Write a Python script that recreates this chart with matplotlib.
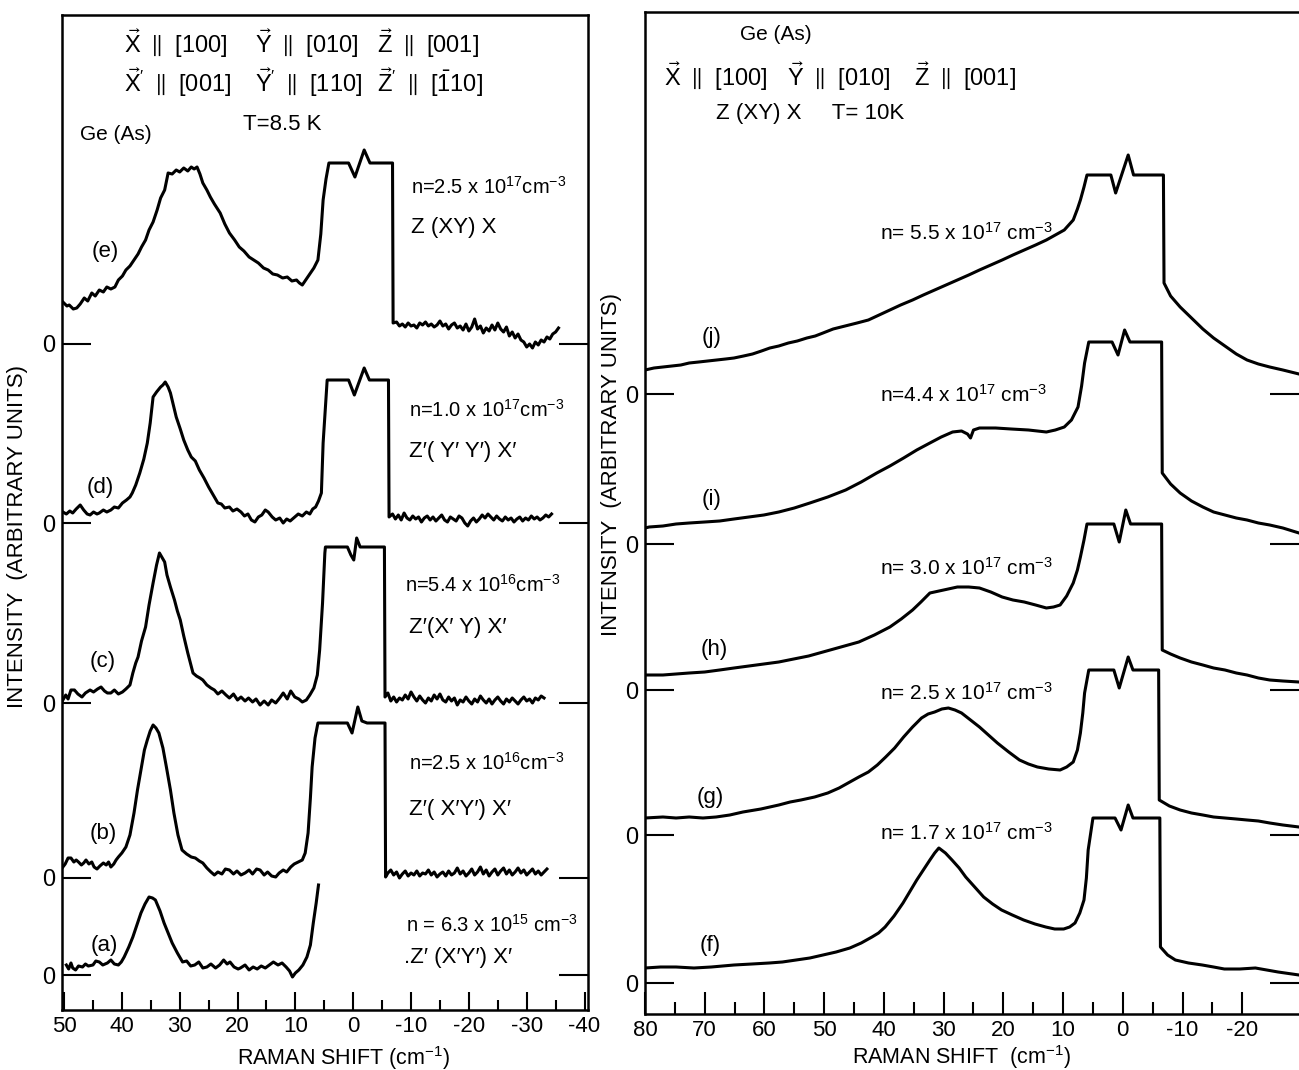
import matplotlib
matplotlib.use('Agg')
import matplotlib.pyplot as plt

plt.rcParams['font.family'] = ['Liberation Sans', 'DejaVu Sans']
plt.rcParams['mathtext.default'] = 'regular'
plt.rcParams['font.size'] = 15

# ---- left panel: Ge(As), T = 8.5 K, traces (e)..(a); (shift, intensity above own zero)
trace_e = [(50.2, 42), (49.5, 38), (49.1, 39), (48.4, 35), (47.8, 36), (47.2, 40), (46.5, 46), (45.9, 43),
           (45.2, 51), (44.6, 48), (43.9, 54), (43.2, 52), (42.6, 57), (41.9, 55), (41.2, 57), (40.6, 64),
           (39.9, 68), (39.3, 74), (38.6, 78), (37.9, 84), (37.2, 90), (36.6, 97), (35.9, 104), (35.3, 114),
           (34.6, 122), (33.9, 134), (33.3, 146), (32.6, 154), (32.0, 171), (31.3, 170), (30.6, 174),
           (30.0, 172), (29.3, 176), (28.6, 173), (28.0, 177), (27.5, 175), (27.0, 177), (26.5, 170),
           (26.0, 161), (25.3, 154), (24.7, 147), (24.0, 140), (23.0, 131), (22.2, 120), (21.4, 111),
           (20.5, 104), (19.7, 97), (18.9, 93), (18.0, 87), (17.2, 84), (16.4, 81), (15.5, 76), (14.7, 74),
           (13.9, 70), (13.1, 69), (12.2, 66), (11.4, 67), (10.6, 63), (9.8, 64), (9.3, 61), (8.8, 59),
           (8.1, 65), (7.4, 71), (6.8, 76), (6.1, 84), (5.6, 110), (5.2, 144), (4.7, 165), (4.2, 181),
           (0.8, 181), (-0.3, 167), (-1.9, 194), (-2.9, 181), (-6.8, 181), (-6.9, 21),
           (-7.5, 22), (-8.0, 18), (-8.5, 20), (-9.0, 17), (-9.5, 21), (-10.0, 18), (-10.5, 19), (-11.0, 16),
           (-11.5, 21), (-12.0, 19), (-12.5, 22), (-13.0, 18), (-13.5, 20), (-14.0, 17), (-14.5, 19),
           (-15.0, 23), (-15.5, 18), (-16.0, 20), (-16.5, 15), (-17.0, 19), (-17.5, 21), (-18.0, 16),
           (-18.5, 18), (-19.0, 14), (-19.5, 20), (-20.0, 13), (-20.5, 17), (-21.0, 25), (-21.5, 15),
           (-22.0, 18), (-22.5, 11), (-23.0, 16), (-23.5, 13), (-24.0, 19), (-24.5, 14), (-25.0, 21),
           (-25.5, 15), (-26.0, 12), (-26.5, 17), (-27.0, 8), (-27.5, 12), (-28.0, 6), (-28.5, 10),
           (-29.0, 4), (-29.5, 2), (-30.0, -3), (-30.5, 0), (-31.0, -4), (-31.5, 2), (-32.0, -1),
           (-32.5, 4), (-33.0, 2), (-33.5, 7), (-34.0, 5), (-34.5, 10), (-35.0, 12), (-35.5, 16)]

trace_d = [(50.2, 11), (49.6, 9), (49.0, 12), (48.5, 10), (47.9, 14), (47.2, 18), (46.6, 13), (46.0, 9),
           (45.5, 8), (44.9, 11), (44.3, 9), (43.9, 10), (43.2, 13), (42.6, 11), (41.9, 13), (41.3, 16),
           (40.6, 15), (39.9, 20), (39.2, 23), (38.6, 26), (38.2, 30), (37.6, 38), (36.9, 50), (36.2, 64),
           (35.6, 80), (35.1, 100), (34.6, 126), (34.0, 131), (33.3, 136), (32.9, 138), (32.5, 141),
           (32.0, 136), (31.6, 130), (31.1, 118), (30.6, 106), (29.9, 94), (29.3, 83), (28.6, 73),
           (28.0, 66), (27.3, 62), (26.6, 53), (25.8, 45), (25.0, 36), (24.2, 28), (23.4, 20), (22.8, 19),
           (22.2, 15), (21.4, 16), (20.8, 12), (20.1, 14), (19.4, 11), (18.8, 7), (18.2, 9), (17.6, 3),
           (17.0, 1), (16.4, 6), (15.8, 8), (15.2, 13), (14.7, 11), (14.0, 6), (13.4, 3), (12.7, 5),
           (12.1, 0), (11.5, 4), (10.9, 2), (10.1, 6), (9.5, 9), (8.8, 7), (8.1, 11), (7.5, 9), (7.0, 14),
           (6.5, 16), (6.0, 22), (5.5, 30), (5.2, 80), (4.5, 143),
           (0.8, 143), (-0.2, 128), (-1.9, 155), (-2.8, 143), (-6.1, 143), (-6.2, 6),
           (-6.8, 9), (-7.3, 4), (-7.8, 8), (-8.3, 3), (-8.8, 10), (-9.3, 5), (-9.8, 3), (-10.3, 7),
           (-10.8, 4), (-11.3, 6), (-11.8, 1), (-12.3, 5), (-12.8, 7), (-13.3, 3), (-13.8, 6), (-14.3, 2),
           (-14.8, 5), (-15.3, 8), (-15.8, 3), (-16.3, 1), (-16.8, 6), (-17.3, 4), (-17.8, 2), (-18.3, 7),
           (-18.8, 5), (-19.3, 0), (-19.8, -3), (-20.3, 2), (-20.8, 5), (-21.3, 1), (-21.8, 4), (-22.3, 8),
           (-22.8, 5), (-23.3, 9), (-23.8, 6), (-24.3, 3), (-24.8, 7), (-25.3, 4), (-25.8, 2), (-26.3, 6),
           (-26.8, 3), (-27.3, 5), (-27.8, 1), (-28.3, 4), (-28.8, 6), (-29.3, 2), (-29.8, 5), (-30.3, 3),
           (-30.8, 7), (-31.3, 4), (-31.8, 6), (-32.3, 3), (-32.8, 5), (-33.3, 8), (-33.8, 6), (-34.3, 9)]

trace_c = [(50.2, 3), (49.7, 8), (49.3, 4), (48.8, 13), (48.2, 13), (47.6, 9), (46.9, 6), (46.3, 10),
           (45.5, 13), (44.9, 11), (44.2, 14), (43.6, 16), (43.0, 12), (42.5, 10), (41.9, 10), (41.3, 13),
           (40.6, 9), (39.9, 11), (39.3, 14), (38.6, 18), (38.1, 30), (37.6, 40), (37.2, 46), (36.6, 62),
           (35.9, 76), (35.3, 98), (34.6, 120), (34.0, 138), (33.5, 150), (33.1, 146), (32.6, 141),
           (32.2, 128), (31.6, 116), (30.9, 103), (30.4, 92), (29.9, 83), (29.3, 67), (28.6, 50),
           (28.1, 39), (27.7, 30), (27.1, 27), (26.5, 25), (26.0, 23), (25.3, 18), (24.6, 15), (24.0, 13),
           (23.4, 9), (22.7, 12), (22.0, 8), (21.4, 5), (20.7, 9), (20.0, 3), (19.4, 6), (18.7, 2),
           (18.1, 5), (17.4, 1), (16.8, 4), (16.1, -2), (15.4, 2), (14.7, -2), (14.1, 3), (13.4, 0),
           (12.7, 5), (12.1, 10), (11.4, 4), (10.8, 12), (10.1, 6), (9.4, 4), (8.8, 1), (8.1, 3), (7.5, 8),
           (6.8, 15), (6.2, 28), (5.8, 53), (5.3, 100), (4.9, 150), (4.8, 156),
           (1.0, 156), (0.4, 148), (-0.1, 143), (-0.6, 165), (-1.2, 156), (-5.4, 156), (-5.5, 6),
           (-6.0, 10), (-6.5, 2), (-7.0, 6), (-7.5, 1), (-8.0, 5), (-8.5, 3), (-9.0, 8), (-9.5, 4),
           (-10.0, 11), (-10.5, 6), (-11.0, 2), (-11.5, 7), (-12.0, 3), (-12.5, 0), (-13.0, 5), (-13.5, 2),
           (-14.0, 8), (-14.5, 4), (-15.0, 9), (-15.5, 3), (-16.0, 1), (-16.5, 6), (-17.0, 2), (-17.5, 5),
           (-18.0, -2), (-18.5, 3), (-19.0, 1), (-19.5, 6), (-20.0, 2), (-20.5, -1), (-21.0, 4), (-21.5, 1),
           (-22.0, 7), (-22.5, 3), (-23.0, 0), (-23.5, 4), (-24.0, -1), (-24.5, 3), (-25.0, 6), (-25.5, 2),
           (-26.0, -1), (-26.5, 4), (-27.0, 1), (-27.5, 5), (-28.0, 2), (-28.5, -1), (-29.0, 3), (-29.5, 6),
           (-30.0, 2), (-30.5, 4), (-31.0, 0), (-31.5, 5), (-32.0, 3), (-32.5, 7), (-33.0, 5)]

trace_b = [(50.2, 11), (49.8, 14), (49.3, 20), (48.8, 20), (48.3, 16), (47.9, 18), (47.5, 16), (47.0, 13),
           (46.6, 15), (46.2, 18), (45.7, 14), (45.2, 16), (44.8, 11), (44.3, 9), (43.8, 12), (43.2, 15),
           (42.7, 13), (42.3, 16), (41.9, 11), (41.4, 14), (41.0, 18), (40.6, 21), (40.0, 25), (39.3, 31),
           (38.6, 43), (37.9, 65), (37.3, 88), (36.6, 111), (36.1, 128), (35.6, 138), (35.1, 147),
           (34.6, 153), (34.1, 150), (33.6, 145), (32.9, 130), (32.3, 111), (31.6, 88), (31.0, 65),
           (30.3, 43), (29.6, 28), (28.8, 24), (28.0, 21), (27.3, 20), (26.6, 17), (26.0, 15), (25.3, 10),
           (24.6, 6), (24.0, 3), (23.4, 6), (22.7, 4), (22.1, 9), (21.4, 8), (20.7, 4), (20.1, 7),
           (19.4, 3), (18.7, 5), (18.0, 8), (17.4, 4), (16.7, 9), (16.1, 8), (15.4, 3), (14.8, 6),
           (14.1, 2), (13.4, 1), (12.8, 5), (12.1, 8), (11.5, 6), (10.8, 11), (10.2, 14), (9.5, 16),
           (8.8, 18), (8.3, 25), (7.8, 45), (7.4, 80), (7.1, 111), (6.6, 140), (6.1, 155),
           (1.0, 155), (0.2, 145), (-0.8, 171), (-1.5, 157), (-2.4, 155), (-5.5, 155), (-5.6, 1),
           (-6.0, 5), (-6.5, 8), (-7.0, 3), (-7.5, 6), (-8.0, 0), (-8.5, 4), (-9.0, 7), (-9.5, 2),
           (-10.0, 5), (-10.5, 3), (-11.0, 7), (-11.5, 2), (-12.0, 5), (-12.5, 4), (-13.0, 8), (-13.5, 3),
           (-14.0, 6), (-14.5, 1), (-15.0, 4), (-15.5, 6), (-16.0, 2), (-16.5, 7), (-17.0, 3), (-17.5, 5),
           (-18.0, 10), (-18.5, 4), (-19.0, 7), (-19.5, 2), (-20.0, 5), (-20.5, 9), (-21.0, 3), (-21.5, 6),
           (-22.0, 11), (-22.5, 4), (-23.0, 8), (-23.5, 2), (-24.0, 6), (-24.5, 9), (-25.0, 3), (-25.5, 7),
           (-26.0, 10), (-26.5, 4), (-27.0, 8), (-27.5, 3), (-28.0, 6), (-28.5, 10), (-29.0, 5), (-29.5, 8),
           (-30.0, 3), (-30.5, 6), (-31.0, 9), (-31.5, 4), (-32.0, 7), (-32.5, 3), (-33.0, 6), (-33.5, 9)]

trace_a = [(49.6, 10), (49.2, 6), (48.8, 12), (48.5, 7), (48.0, 5), (47.5, 9), (46.8, 8), (46.3, 11),
           (45.8, 9), (45.0, 10), (44.5, 14), (43.9, 13), (43.3, 10), (42.5, 12), (41.9, 15), (41.3, 11),
           (40.6, 10), (40.1, 13), (39.6, 18), (38.8, 28), (38.1, 38), (37.4, 50), (36.7, 62), (36.0, 71),
           (35.3, 78), (34.7, 77), (34.2, 75), (33.4, 64), (32.7, 52), (32.0, 42), (31.3, 32), (30.4, 22),
           (29.5, 13), (28.8, 14), (28.1, 9), (27.4, 10), (26.7, 13), (26.0, 7), (25.3, 8), (24.6, 11),
           (23.8, 7), (23.1, 10), (22.4, 15), (21.8, 11), (21.3, 13), (20.6, 8), (19.9, 6), (19.5, 7),
           (18.7, 10), (18.0, 5), (17.3, 8), (16.6, 6), (15.9, 9), (15.2, 7), (14.5, 10), (13.8, 13),
           (13.0, 10), (12.3, 12), (11.6, 8), (11.0, 4), (10.5, -2), (10.0, 2), (9.4, 5), (8.7, 10),
           (8.0, 18), (7.4, 30), (6.9, 52), (6.4, 72), (6.0, 90)]

left_traces = [trace_e, trace_d, trace_c, trace_b, trace_a]
left_zero = [666, 487, 307, 132, 35]
left_tags = ['(e)', '(d)', '(c)', '(b)', '(a)']
left_density = [r'n=2.5 x 10$^{17}$cm$^{-3}$', r'n=1.0 x 10$^{17}$cm$^{-3}$',
                r'n=5.4 x 10$^{16}$cm$^{-3}$', r'n=2.5 x 10$^{16}$cm$^{-3}$',
                r'n = 6.3 x 10$^{15}$ cm$^{-3}$']
left_geometry = ['Z (XY) X', 'Z′( Y′ Y′) X′', 'Z′(X′ Y) X′', 'Z′( X′Y′) X′', '.Z′ (X′Y′) X′']

# ---- right panel: Ge(As), Z(XY)X, T = 10 K, traces (j)..(f)
trace_j = [(80.0, 24), (78.5, 26), (77.0, 27), (75.5, 28), (74.0, 29), (72.6, 31), (71.0, 32), (69.5, 33),
           (68.0, 34), (66.5, 35), (65.1, 36), (63.5, 38), (62.0, 40), (60.5, 43), (59.1, 46), (57.6, 48),
           (56.0, 51), (54.5, 53), (52.9, 56), (51.5, 58), (50.2, 61), (48.5, 65), (46.5, 68), (44.5, 71),
           (42.6, 74), (40.8, 79), (39.0, 84), (37.2, 89), (35.2, 94), (33.4, 99), (31.5, 104), (29.6, 109),
           (27.7, 114), (25.8, 119), (24.0, 124), (22.1, 129), (20.2, 134), (18.4, 139), (16.5, 144),
           (14.6, 149), (12.8, 154), (11.3, 159), (9.8, 164), (8.3, 174), (7.6, 185), (7.1, 194),
           (6.5, 207), (6.0, 219),
           (2.0, 219), (1.2, 201), (-0.9, 239), (-1.8, 219), (-6.8, 219), (-6.9, 111),
           (-8.0, 98), (-9.6, 87), (-11.5, 76), (-13.4, 65), (-15.2, 56), (-17.1, 48), (-19.0, 40),
           (-20.8, 34), (-22.7, 30), (-24.6, 27), (-26.8, 24), (-29.5, 20)]

trace_i = [(80.0, 16), (79.3, 17), (77.0, 18), (74.8, 20), (72.6, 21), (70.0, 22), (67.5, 23), (65.1, 25),
           (62.6, 27), (60.1, 29), (57.6, 32), (55.0, 36), (52.4, 41), (49.4, 47), (46.4, 54), (43.8, 62),
           (41.2, 71), (39.0, 78), (36.7, 86), (34.5, 94), (32.3, 101), (30.4, 107), (28.5, 112),
           (27.0, 113), (26.0, 110), (25.5, 106), (25.0, 114), (24.0, 116), (21.3, 116), (18.7, 115),
           (15.8, 114), (12.8, 112), (11.3, 114), (9.8, 117), (8.6, 124), (7.5, 137), (6.9, 158),
           (6.4, 181), (5.7, 202),
           (1.8, 202), (0.8, 189), (-0.3, 214), (-1.2, 202), (-6.5, 202), (-6.6, 71),
           (-8.0, 60), (-9.6, 51), (-11.5, 43), (-13.4, 37), (-15.2, 32), (-17.1, 29), (-19.0, 26),
           (-20.8, 24), (-22.7, 21), (-24.6, 19), (-26.8, 16), (-29.5, 11)]

trace_h = [(80.0, 15), (77.0, 15), (74.8, 16), (72.6, 17), (70.0, 18), (67.5, 20), (65.1, 22), (62.6, 24),
           (60.1, 26), (57.6, 28), (55.1, 31), (52.6, 34), (50.2, 38), (47.2, 43), (44.2, 48), (41.6, 55),
           (39.0, 63), (37.1, 71), (35.2, 80), (33.8, 88), (32.3, 97), (30.0, 100), (27.7, 103),
           (25.8, 103), (24.0, 102), (22.1, 98), (20.2, 93), (18.4, 90), (16.5, 88), (14.6, 85),
           (12.8, 82), (11.6, 83), (10.5, 85), (9.4, 94), (8.3, 107), (7.6, 120), (7.1, 133), (6.5, 150),
           (6.0, 166),
           (1.5, 166), (0.6, 148), (-0.5, 180), (-1.3, 166), (-6.5, 166), (-6.6, 40),
           (-8.0, 36), (-9.6, 32), (-11.5, 28), (-13.4, 25), (-15.2, 22), (-17.1, 20), (-19.0, 17),
           (-20.8, 15), (-22.7, 12), (-24.6, 10), (-26.8, 9), (-29.5, 8)]

trace_g = [(80.0, 17), (77.0, 18), (74.8, 17), (72.6, 18), (70.3, 17), (68.1, 18), (65.8, 20), (63.6, 23),
           (60.6, 26), (57.6, 30), (55.7, 33), (53.9, 35), (51.6, 38), (49.4, 42), (47.5, 47), (45.7, 53),
           (44.2, 58), (42.6, 63), (41.1, 70), (39.7, 78), (38.2, 87), (36.7, 98), (35.2, 108),
           (33.7, 117), (32.6, 121), (31.5, 123), (30.3, 126), (29.2, 127), (28.1, 125), (27.0, 122),
           (25.5, 115), (24.0, 108), (22.5, 100), (21.0, 92), (19.1, 83), (17.3, 75), (15.8, 71),
           (14.3, 68), (12.4, 66), (10.5, 65), (9.4, 68), (8.3, 73), (7.6, 85), (7.1, 102), (6.7, 122),
           (6.4, 142), (5.7, 165),
           (1.5, 165), (0.6, 147), (-0.9, 178), (-1.7, 165), (-6.0, 165), (-6.1, 35),
           (-7.8, 29), (-9.6, 25), (-11.5, 22), (-13.4, 20), (-15.2, 18), (-17.1, 17), (-19.0, 16),
           (-20.8, 15), (-22.7, 14), (-24.6, 12), (-26.8, 10), (-29.5, 8)]

trace_f = [(80.0, 15), (77.4, 16), (74.8, 16), (71.8, 15), (68.9, 16), (67.0, 17), (65.1, 18), (62.1, 19),
           (59.2, 20), (57.0, 21), (54.7, 23), (52.4, 25), (50.2, 28), (48.0, 31), (45.7, 35), (43.8, 40),
           (42.0, 46), (40.9, 50), (39.8, 56), (38.3, 67), (36.8, 80), (35.6, 92), (34.5, 103),
           (33.4, 113), (32.3, 123), (31.5, 130), (30.8, 135), (29.7, 130), (28.6, 123), (27.4, 115),
           (26.3, 106), (24.8, 96), (23.3, 86), (21.8, 79), (20.3, 73), (18.5, 68), (16.6, 63),
           (14.7, 59), (12.9, 56), (11.4, 54), (9.9, 54), (8.9, 56), (8.0, 60), (7.2, 70), (6.5, 83),
           (6.1, 105), (5.8, 133), (5.0, 165),
           (1.3, 165), (0.3, 153), (-0.9, 178), (-1.7, 165), (-6.2, 165), (-6.3, 36),
           (-7.5, 28), (-8.8, 23), (-11.0, 20), (-13.3, 18), (-15.2, 16), (-17.0, 14), (-19.6, 14),
           (-22.2, 15), (-24.1, 13), (-26.0, 11), (-29.5, 8)]

right_traces = [trace_j, trace_i, trace_h, trace_g, trace_f]
right_zero = [620, 470, 324, 179, 31]
right_tags = ['(j)', '(i)', '(h)', '(g)', '(f)']
right_density = [r'n= 5.5 x 10$^{17}$ cm$^{-3}$', r'n=4.4 x 10$^{17}$ cm$^{-3}$',
                 r'n= 3.0 x 10$^{17}$ cm$^{-3}$', r'n= 2.5 x 10$^{17}$ cm$^{-3}$',
                 r'n= 1.7 x 10$^{17}$ cm$^{-3}$']

left_ticks = [50, 40, 30, 20, 10, 0, -10, -20, -30, -40]
right_ticks = [80, 70, 60, 50, 40, 30, 20, 10, 0, -10, -20]

W, H = 1299, 1070
fig = plt.figure(figsize=(W / 100, H / 100), dpi=100)


def px_text(x, y, s, **kw):
    # place text using pixel coordinates of the 1299x1070 sheet
    kw.setdefault('fontsize', 15)
    kw.setdefault('va', 'center')
    kw.setdefault('ha', 'left')
    fig.text(x / W, 1 - y / H, s, **kw)


def style_axes(ax, ticks, zeros, major_len, minor_len):
    for sp in ax.spines.values():
        sp.set_linewidth(1.8)
    ax.set_xticks(ticks)
    ax.set_xticklabels([str(t) for t in ticks])
    ax.set_xticks([t - 5 for t in ticks[:-1]], minor=True)
    ax.tick_params(axis='x', which='major', direction='in', length=major_len, width=1.5,
                   labelsize=16, pad=4)
    ax.tick_params(axis='x', which='minor', direction='in', length=minor_len, width=1.5)
    ax.set_yticks(zeros)
    ax.set_yticklabels(['0'] * len(zeros))
    ax.tick_params(axis='y', direction='in', length=21, width=1.5, right=True,
                   labelright=False, labelsize=17, pad=5)


axL = fig.add_axes([62 / W, 1 - 1010 / H, (588 - 62) / W, (1010 - 15) / H])
for tr, z in zip(left_traces, left_zero):
    xs = [p[0] for p in tr]
    ys = [z + p[1] for p in tr]
    axL.plot(xs, ys, color='black', lw=2.2, solid_joinstyle='round')
axL.set_xlim(50.35, -40.6)
axL.set_ylim(0, 995)
style_axes(axL, left_ticks, left_zero, 13, 7)

axR = fig.add_axes([645 / W, 1 - 1014 / H, (1299 - 645) / W, (1014 - 12) / H])
for tr, z in zip(right_traces, right_zero):
    xs = [p[0] for p in tr]
    ys = [z + p[1] for p in tr]
    axR.plot(xs, ys, color='black', lw=2.2, solid_joinstyle='round')
axR.set_xlim(80, -29.5)
axR.set_ylim(0, 1002)
style_axes(axR, right_ticks, right_zero, 16, 9)
axR.spines['right'].set_visible(False)

# left panel annotations
px_text(124, 43, r'$\vec{X}$ $\parallel$ [100]', fontsize=17)
px_text(255, 43, r'$\vec{Y}$ $\parallel$ [010]', fontsize=17)
px_text(377, 43, r'$\vec{Z}$ $\parallel$ [001]', fontsize=17)
px_text(124, 82, r"$\vec{X}'$ $\parallel$ [001]", fontsize=17)
px_text(255, 82, r"$\vec{Y}'$ $\parallel$ [110]", fontsize=17)
px_text(377, 82, r"$\vec{Z}'$ $\parallel$ $[\bar{1}10]$", fontsize=17)
px_text(243, 124, 'T=8.5 K', fontsize=16)
px_text(80, 135, 'Ge (As)', fontsize=15)

left_tag_pos = [(105, 252), (100, 487), (103, 662), (103, 833), (104, 945)]
left_dens_pos = [(411, 187), (409, 410), (405, 585), (409, 763), (406, 925)]
left_geo_pos = [(411, 227), (409, 452), (409, 627), (409, 810), (404, 958)]
for s, (x, y) in zip(left_tags, left_tag_pos):
    px_text(x, y, s, ha='center', fontsize=16)
for s, (x, y) in zip(left_density, left_dens_pos):
    px_text(x, y, s, fontsize=14.5)
for s, (x, y) in zip(left_geometry, left_geo_pos):
    px_text(x, y, s, fontsize=16)

# right panel annotations
px_text(740, 35, 'Ge (As)', fontsize=15)
px_text(664, 76, r'$\vec{X}$ $\parallel$ [100]', fontsize=17)
px_text(787, 76, r'$\vec{Y}$ $\parallel$ [010]', fontsize=17)
px_text(914, 76, r'$\vec{Z}$ $\parallel$ [001]', fontsize=17)
px_text(716, 113, 'Z (XY) X     T= 10K', fontsize=16)

right_tag_pos = [(712, 337), (712, 500), (714, 650), (710, 797), (710, 945)]
right_dens_pos = [(880, 233), (880, 395), (880, 568), (880, 693), (880, 833)]
for s, (x, y) in zip(right_tags, right_tag_pos):
    px_text(x, y, s, ha='center', fontsize=16)
for s, (x, y) in zip(right_density, right_dens_pos):
    px_text(x, y, s, fontsize=15)

# axis titles
px_text(344, 1058, r'RAMAN SHIFT (cm$^{-1}$)', ha='center', fontsize=15.5)
px_text(962, 1057, r'RAMAN SHIFT  (cm$^{-1}$)', ha='center', fontsize=15.5)
px_text(18, 537, 'INTENSITY  (ARBITRARY UNITS)', ha='center', rotation=90, fontsize=16)
px_text(612, 465, 'INTENSITY  (ARBITRARY UNITS)', ha='center', rotation=90, fontsize=16)

fig.savefig('out.png', dpi=100, facecolor='white')
